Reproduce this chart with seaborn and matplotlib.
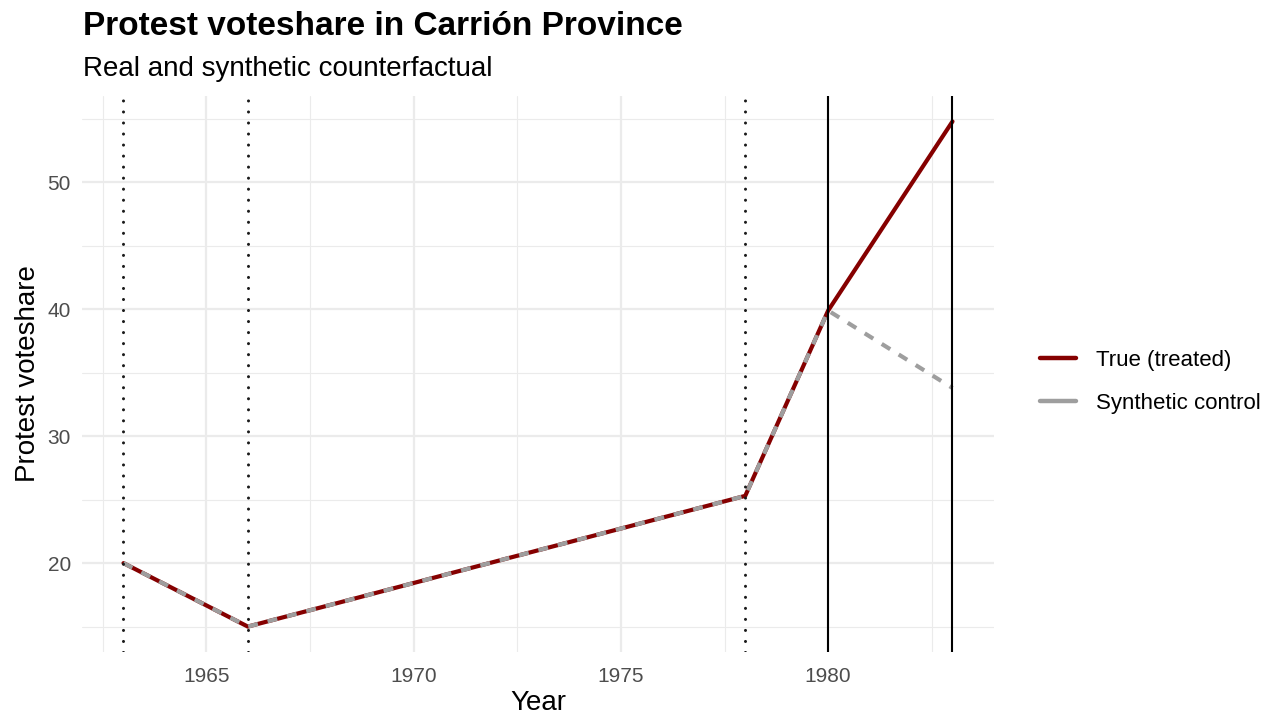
import matplotlib
matplotlib.use("Agg")
import matplotlib.pyplot as plt
import seaborn as sns
import pandas as pd
from matplotlib.ticker import MultipleLocator
from matplotlib.lines import Line2D

years = [1963, 1966, 1978, 1980, 1983]
true_share = [20.0, 15.0, 25.3, 39.9, 54.8]
synthetic_share = [20.0, 15.0, 25.3, 39.9, 33.8]
series_names = ["True (treated)", "Synthetic control"]
dotted_years = [1963, 1966, 1978]
solid_years = [1980, 1983]
x_ticks = [1965, 1970, 1975, 1980]
y_ticks = [20, 30, 40, 50]

df = pd.DataFrame({
    "Year": years + years,
    "share": true_share + synthetic_share,
    "series": [series_names[0]] * len(years) + [series_names[1]] * len(years),
})

sns.set_theme(style="whitegrid")
plt.rcParams["font.family"] = ["Liberation Sans", "DejaVu Sans"]

fig = plt.figure(figsize=(12.72, 7.17), dpi=100)
ax = fig.add_axes([0.0645, 0.0907, 0.7169, 0.7753])

red = "#850000"
gray = "#9E9E9E"
sns.lineplot(data=df, x="Year", y="share", hue="series", style="series",
             palette={series_names[0]: red, series_names[1]: gray},
             dashes={series_names[0]: "", series_names[1]: (2.4, 2.4)},
             linewidth=3.0, ax=ax, legend=False, zorder=3)

for yr in dotted_years:
    ax.axvline(yr, color="#1A1A1A", linestyle=(0, (0.01, 3.6)), linewidth=2.2,
               dash_capstyle="round", zorder=4)
for yr in solid_years:
    ax.axvline(yr, color="black", linewidth=1.5, zorder=4)

ax.set_xlim(1962.0, 1984.0)
ax.set_ylim(13.0, 56.8)
ax.set_xticks(x_ticks)
ax.set_yticks(y_ticks)
ax.xaxis.set_minor_locator(MultipleLocator(2.5))
ax.yaxis.set_minor_locator(MultipleLocator(5))
ax.grid(which="major", color="#EBEBEB", linewidth=1.6)
ax.grid(which="minor", color="#EBEBEB", linewidth=0.8)
ax.set_axisbelow(True)
for s in ax.spines.values():
    s.set_visible(False)
ax.tick_params(axis="y", which="both", length=0, labelsize=15, labelcolor="#4D4D4D", pad=8)
ax.tick_params(axis="x", which="both", length=0, labelsize=15, labelcolor="#4D4D4D", pad=11)

ax.set_xlabel("Year", fontsize=20, color="black", labelpad=3)
ax.set_ylabel("Protest voteshare", fontsize=20, color="black", labelpad=5)

fig.text(0.0653, 0.9512, "Protest voteshare in Carrión Province", fontsize=24,
         fontweight="bold", ha="left", va="baseline", color="black")
fig.text(0.0653, 0.894, "Real and synthetic counterfactual", fontsize=20,
         ha="left", va="baseline", color="black")

handles = [Line2D([0], [0], color=red, linewidth=3.2),
           Line2D([0], [0], color=gray, linewidth=3.2)]
leg = fig.legend(handles, series_names, loc="center left", bbox_to_anchor=(0.8176, 0.467),
                 frameon=False, fontsize=16, handlelength=1.6, labelspacing=1.0,
                 handletextpad=0.9, borderpad=0, borderaxespad=0)
for t in leg.get_texts():
    t.set_color("black")

fig.savefig("out.png", dpi=100)
